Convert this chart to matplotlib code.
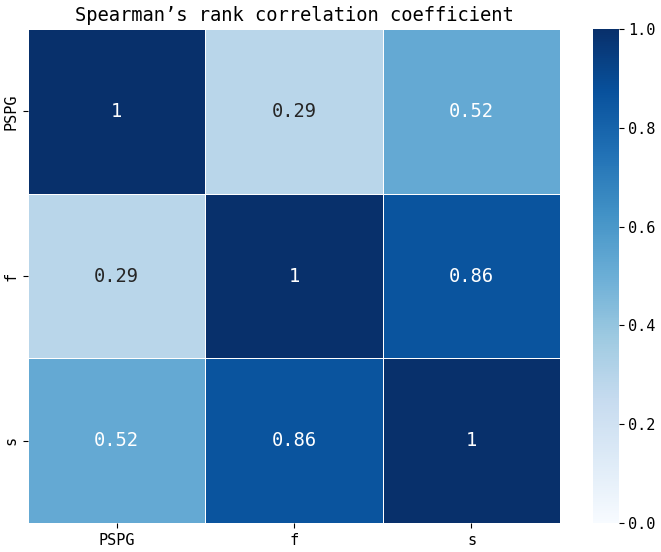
import matplotlib
matplotlib.use("Agg")
import matplotlib.pyplot as plt
import numpy as np
import pandas as pd
import seaborn as sns

# variables and their Spearman correlations
labels = ["PSPG", "f", "s"]
corr_values = [
    [1.00, 0.29, 0.52],
    [0.29, 1.00, 0.86],
    [0.52, 0.86, 1.00],
]

df = pd.DataFrame(corr_values, index=labels, columns=labels)

plt.rcParams['font.family'] = ['DejaVu Sans Mono', 'DejaVu Sans']

fig = plt.figure(figsize=(6.61, 5.52), dpi=100)
ax = fig.add_axes([0.0424, 0.0525, 0.805, 0.895])
cax = fig.add_axes([0.897, 0.0525, 0.039, 0.895])

sns.heatmap(df, ax=ax, cbar_ax=cax, cmap="Blues", vmin=0, vmax=1,
            annot=True, annot_kws={"fontsize": 13.5},
            linewidths=0.5, linecolor="white")

ax.set_title("Spearman’s rank correlation coefficient", fontsize=13.5)
ax.tick_params(axis="both", labelsize=11)
cax.tick_params(labelsize=11)

fig.savefig("out.png", dpi=100)
